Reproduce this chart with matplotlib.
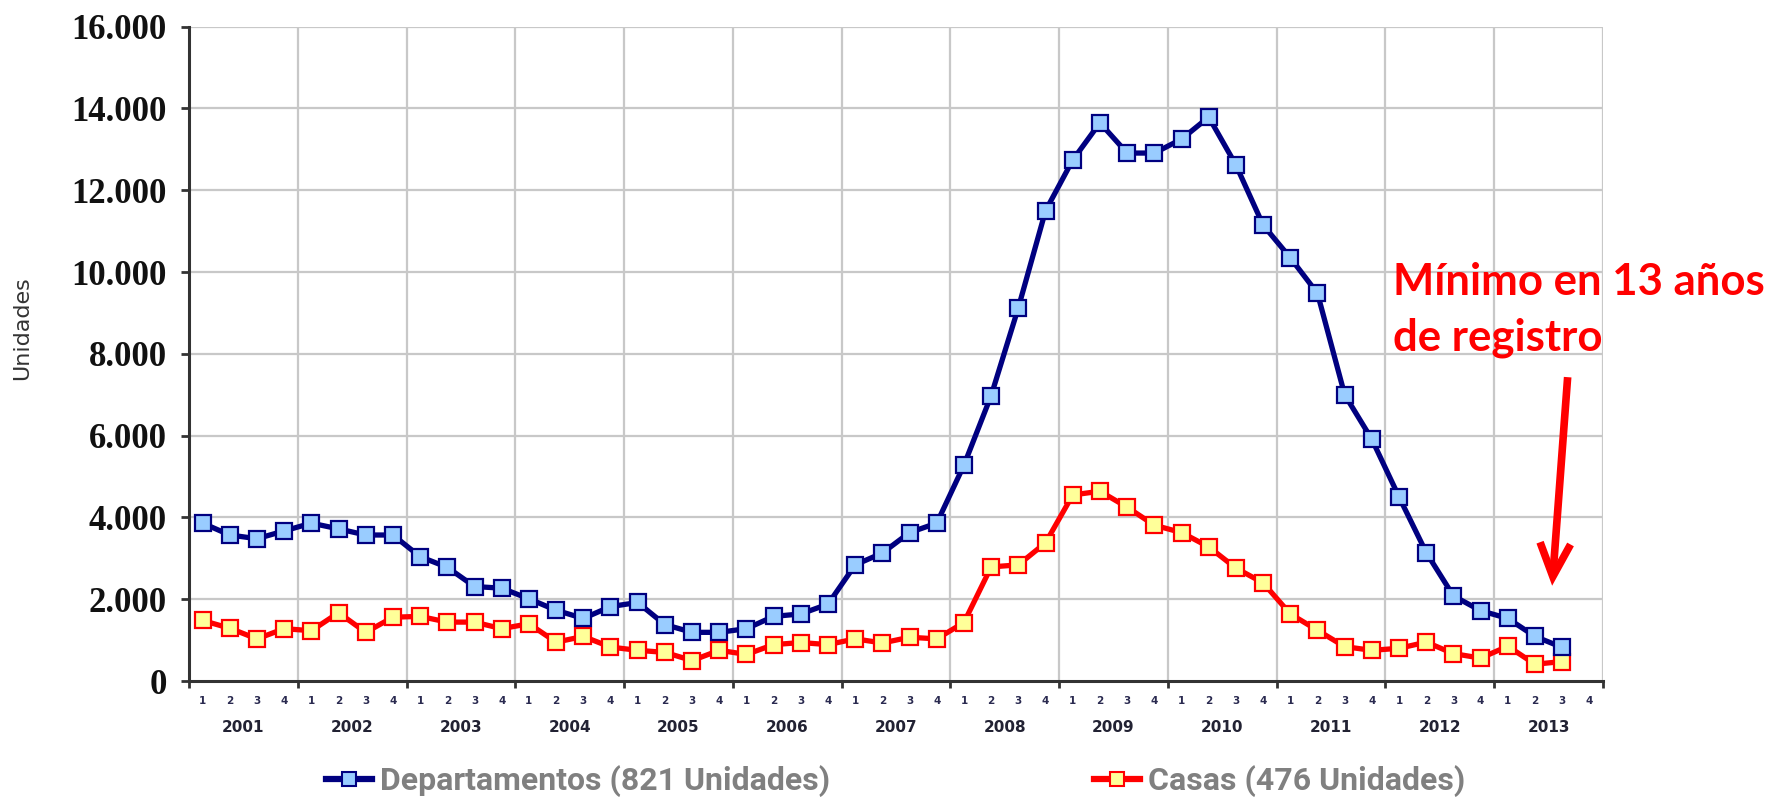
import matplotlib
matplotlib.use("Agg")
import matplotlib.pyplot as plt
from matplotlib.lines import Line2D
from matplotlib.transforms import blended_transform_factory

years = list(range(2001, 2014))
quarter_labels = ["1", "2", "3", "4"]

departamentos = [3860, 3570, 3480, 3670,
                 3860, 3720, 3570, 3570,
                 3040, 2780, 2310, 2270,
                 2010, 1730, 1530, 1820,
                 1920, 1380, 1190, 1190,
                 1280, 1580, 1640, 1880,
                 2840, 3130, 3630, 3860,
                 5280, 6980, 9130, 11500,
                 12740, 13650, 12910, 12910,
                 13250, 13790, 12620, 11150,
                 10350, 9480, 7000, 5910,
                 4500, 3140, 2080, 1720,
                 1530, 1090, 821]

casas = [1480, 1290, 1030, 1280,
         1230, 1670, 1190, 1560,
         1580, 1440, 1440, 1280,
         1400, 950, 1090, 830,
         750, 700, 500, 750,
         650, 890, 940, 890,
         1030, 930, 1070, 1030,
         1430, 2790, 2840, 3380,
         4550, 4640, 4250, 3810,
         3630, 3280, 2760, 2400,
         1640, 1240, 840, 750,
         800, 950, 670, 560,
         850, 410, 476]

label_dep = "Departamentos (821 Unidades)"
label_cas = "Casas (476 Unidades)"
annot_line1 = "Mínimo en 13 años"
annot_line2 = "de registro"
y_ticks = list(range(0, 16001, 2000))

W, H = 1777, 802
fig = plt.figure(figsize=(W / 100, H / 100), dpi=100)
ax = fig.add_axes([189 / W, 1 - 681 / H, (1603 - 189) / W, (681 - 26.7) / H])

nq = len(years) * 4
x = list(range(len(departamentos)))

ax.set_xlim(-0.5, nq - 0.5)
ax.set_ylim(0, 16000)

# grid
grid_c = "#c8c8c8"
for yv in y_ticks[1:]:
    ax.axhline(yv, color=grid_c, lw=1.6, zorder=1)
for i in range(1, len(years) + 1):
    ax.axvline(i * 4 - 0.5, color=grid_c, lw=1.6, zorder=1)

l1, = ax.plot(x, departamentos, color="#000080", lw=3.8, marker="s", ms=11.5,
              mfc="#99ccff", mec="#000080", mew=1.6, zorder=4,
              solid_joinstyle="round")
l2, = ax.plot(range(len(casas)), casas, color="#ff0000", lw=3.8, marker="s", ms=11.5,
              mfc="#ffff99", mec="#ff0000", mew=1.6, zorder=3,
              solid_joinstyle="round")

for s in ["top", "right"]:
    ax.spines[s].set_visible(False)
for s in ["left", "bottom"]:
    ax.spines[s].set_color("#333333")
    ax.spines[s].set_linewidth(2.2)

ax.set_yticks(y_ticks)
ax.set_yticklabels([f"{v:,}".replace(",", ".") for v in y_ticks],
                   fontfamily="Liberation Serif", fontweight="bold", fontsize=25,
                   color="#111111")
ax.tick_params(axis="y", direction="out", length=6, width=2, color="#333333", pad=10)

# x ticks: major at year boundaries, minor at quarters with labels
ax.set_xticks([i * 4 - 0.5 for i in range(len(years) + 1)])
ax.set_xticklabels([])
ax.tick_params(axis="x", which="major", direction="out", length=5, width=2, color="#333333")
ax.set_xticks(list(range(nq)), minor=True)
ax.set_xticklabels(quarter_labels * len(years), minor=True, fontsize=7.5,
                   fontweight="bold", color="#2a2a50")
ax.tick_params(axis="x", which="minor", length=0, pad=11)

trans = blended_transform_factory(ax.transData, ax.transAxes)
for i, yr in enumerate(years):
    ax.text(i * 4 + 1.5, -(728 - 681) / (681 - 26.7), str(yr), transform=trans,
            ha="center", va="center", fontsize=11, fontweight="bold", color="#222233")

fig.text(22 / W, 1 - 328 / H, "Unidades", rotation=90, ha="center", va="center",
         fontsize=16, color="#333333")

# legends
leg_kw = dict(frameon=False, borderpad=0, borderaxespad=0, handlelength=1.45,
              handletextpad=0.25, loc="center left",
              prop=dict(family="Roboto", weight="bold", size=23))
h1 = Line2D([], [], color="#000080", lw=4.5, marker="s", ms=10,
            mfc="#99ccff", mec="#000080", mew=1.5)
h2 = Line2D([], [], color="#ff0000", lw=4.5, marker="s", ms=10,
            mfc="#ffff99", mec="#ff0000", mew=1.5)
lg1 = fig.legend(handles=[h1], labels=[label_dep], bbox_to_anchor=(326 / W, 1 - 781 / H), **leg_kw)
lg2 = fig.legend(handles=[h2], labels=[label_cas], bbox_to_anchor=(1094 / W, 1 - 781 / H), **leg_kw)
for lg in (lg1, lg2):
    for t in lg.get_texts():
        t.set_color("#808080")

# annotation
fig.text(1393 / W, 1 - 295 / H, annot_line1, ha="left", va="baseline",
         fontfamily="Lato", fontweight="bold", fontsize=31.5, color="#ff0000")
fig.text(1393 / W, 1 - 350 / H, annot_line2, ha="left", va="baseline",
         fontfamily="Lato", fontweight="bold", fontsize=31.5, color="#ff0000")

ax.annotate("", xy=(49.63, 2330), xytext=(50.2, 7430), xycoords="data",
            arrowprops=dict(arrowstyle="->,head_length=2.4,head_width=1.1",
                            color="#ff0000", lw=5.5, capstyle="butt",
                            joinstyle="miter", shrinkA=0, shrinkB=0),
            annotation_clip=False, zorder=6)

fig.savefig("out.png", dpi=100)
